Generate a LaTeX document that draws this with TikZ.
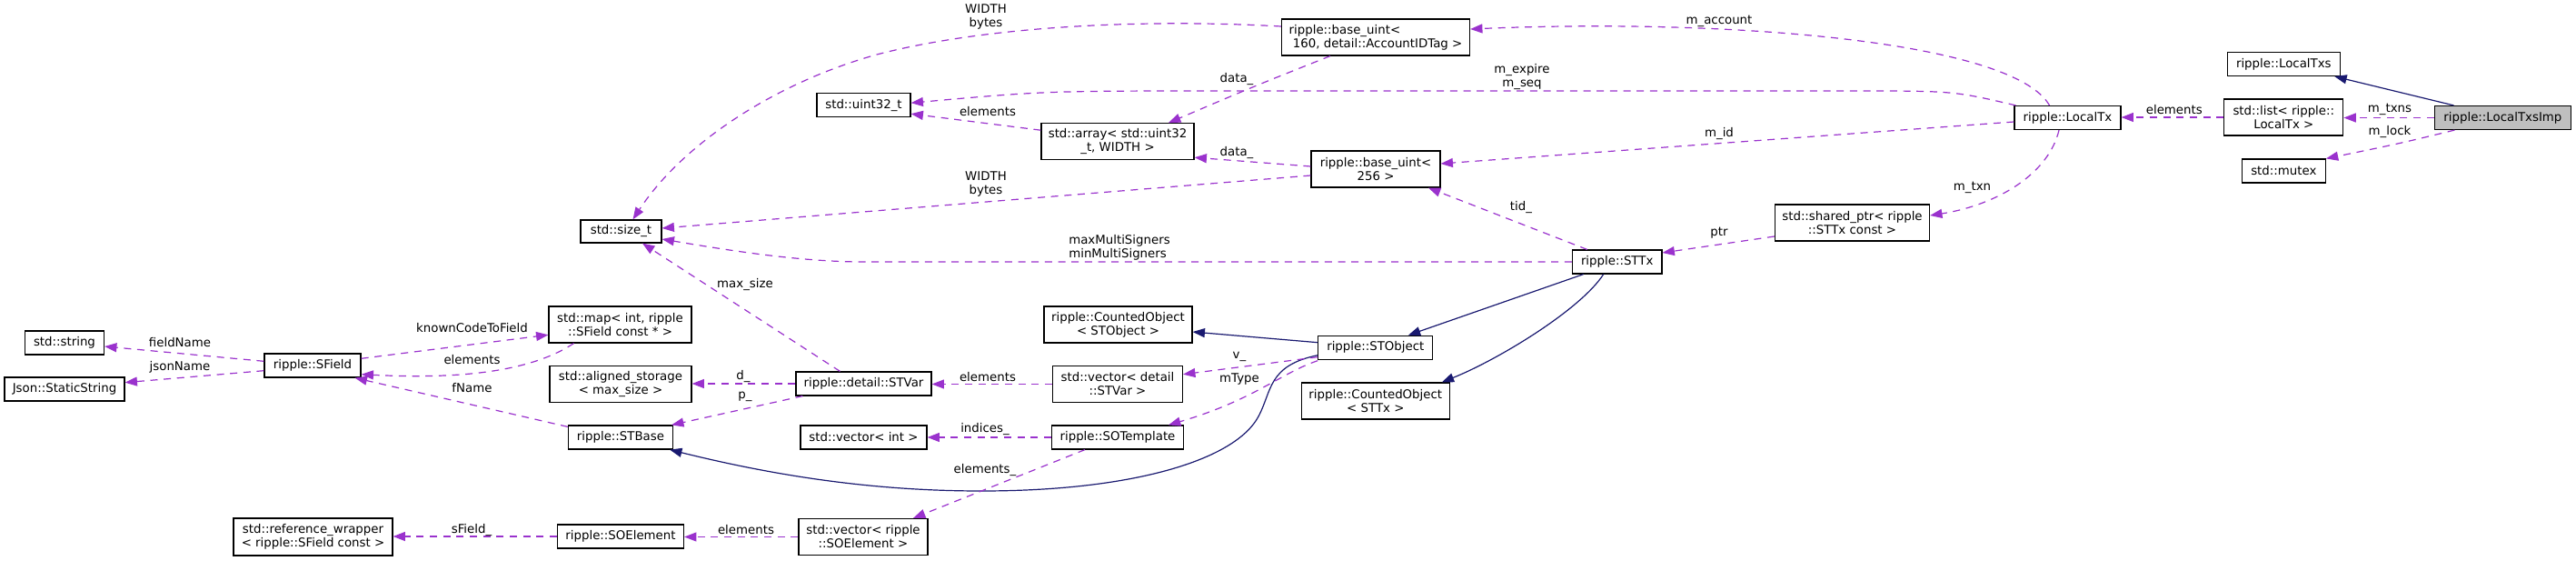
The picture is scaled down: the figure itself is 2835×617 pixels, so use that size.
\documentclass[tikz,border=0pt]{standalone}
\usepackage{fontspec}
\setmainfont{DejaVu Sans}
\usetikzlibrary{arrows.meta,calc}
\definecolor{purp}{HTML}{9A32CD}
\definecolor{navy}{HTML}{191970}
\definecolor{rootgray}{HTML}{BFBFBF}
\tikzset{
  cls/.style={draw=black, line width=0.9pt, fill=white, inner sep=0pt, align=center,
              font=\fontsize{10pt}{11.25pt}\selectfont},
  bx/.style 2 args={cls, minimum width=#1*0.75pt, minimum height=#2*0.75pt},
  lbl/.style={inner sep=0pt, align=center, font=\fontsize{10pt}{11.25pt}\selectfont},
  mem/.style={draw=purp, line width=0.9pt, dash pattern=on 6pt off 5pt,
              -{Triangle[length=10pt,width=7.5pt]}},
  inh/.style={draw=navy, line width=0.9pt, -{Triangle[length=10pt,width=7.5pt]}}
}
\begin{document}
\begin{tikzpicture}[x=0.75pt,y=-0.75pt]
\fill[white] (0,0) rectangle (2835,617);
\useasboundingbox (0,0) rectangle (2835,617);

% nodes
\node[bx={150}{26}, fill=rootgray] (impl) at (2754.4,129.5) {ripple::LocalTxsImp};
\node[bx={124}{26}] (ltxs) at (2513.3,70.5) {ripple::LocalTxs};
\node[bx={131}{40}] (list) at (2513.3,129) {std::list< ripple::\\LocalTx >};
\node[bx={92}{26}] (mutex) at (2513.3,188) {std::mutex};
\node[bx={117}{26}] (ltx) at (2275.5,129.5) {ripple::LocalTx};
\node[bx={170}{40}] (sptr) at (2038.5,245) {std::shared\_ptr< ripple\\::STTx const >};
\node[bx={98.5}{26}] (sttx) at (1779.7,288) {ripple::STTx};
\node[bx={207}{40}, align=left] (bu160) at (1514,41) {ripple::base\_uint<\\\hspace*{0.318em}160, detail::AccountIDTag >};
\node[bx={142}{40}] (bu256) at (1514,186) {ripple::base\_uint<\\256 >};
\node[bx={126}{26}] (stobj) at (1513.8,382.3) {ripple::STObject};
\node[bx={163}{40}] (costtx) at (1513.8,441) {ripple::CountedObject\\< STTx >};
\node[bx={103}{26}] (uint32) at (950.5,115.7) {std::uint32\_t};
\node[bx={168}{40}] (arr) at (1230,155.7) {std::array< std::uint32\\\_t, WIDTH >};
\node[bx={163}{40}] (costobj) at (1230.5,357) {ripple::CountedObject\\< STObject >};
\node[bx={143}{40}] (vecvar) at (1230,422.5) {std::vector< detail\\::STVar >};
\node[bx={145}{26}] (sotmpl) at (1230,481) {ripple::SOTemplate};
\node[bx={149}{26}] (stvar) at (950.5,422) {ripple::detail::STVar};
\node[bx={139}{26}] (vecint) at (950.5,481) {std::vector< int >};
\node[bx={142}{40}] (vecsoe) at (950,590.5) {std::vector< ripple\\::SOElement >};
\node[bx={89}{25}] (sizet) at (683.5,254.5) {std::size\_t};
\node[bx={157}{40}] (map) at (682.5,357) {std::map< int, ripple\\::SField const * >};
\node[bx={156}{40}] (aligned) at (683,422.5) {std::aligned\_storage\\< max\_size >};
\node[bx={115}{26}] (stbase) at (683,481) {ripple::STBase};
\node[bx={139}{26}] (soe) at (683,590) {ripple::SOElement};
\node[bx={106}{26}] (sfield) at (344,402) {ripple::SField};
\node[bx={175}{41}] (refw) at (344.5,590.5) {std::reference\_wrapper\\< ripple::SField const >};
\node[bx={87}{26}] (string) at (71,377) {std::string};
\node[bx={132}{26}] (json) at (71,428) {Json::StaticString};

% inheritance edges
\draw[inh] ($(impl.north)+(-54,0)$) -- ($(ltxs.south)+(56,0)$);
\draw[inh] ($(sttx.south)+(-37,0)$) -- ($(stobj.north)+(36,0)$);
\draw[inh] ($(sttx.south)+(-15,0)$) .. controls (1740,340) and (1650,395) .. ($(costtx.north)+(73,0)$);
\draw[inh] ($(stobj.west)+(0,-5.6)$) -- ($(costobj.east)+(0,8)$);
\draw[inh] ($(stobj.west)+(0,8.4)$) .. controls (1395,402) and (1400,430) .. (1385,458)
   .. controls (1360,505) and (1250,540) .. (1080,540)
   .. controls (950,540) and (840,520) .. ($(stbase.south east)+(-4,0)$);

% member edges
\draw[mem] (impl.west) -- (impl.west -| list.east);
\draw[mem] ($(impl.south)+(-53,0)$) .. controls (2640,158) .. (mutex.north east);
\draw[mem] (list.west) -- (list.west -| ltx.east);
\draw[mem] ($(ltx.north)+(-20,0)$) .. controls (2215,45) and (1900,20) .. ($(bu160.east)+(0,-9)$);
\draw[mem] ($(ltx.north west)+(2,0)$) .. controls (2150,100) .. (2040,100) -- (1350,100)
   .. controls (1150,100) .. ($(uint32.east)+(0,-2.5)$);
\draw[mem] ($(ltx.west)+(0,4.5)$) -- ($(bu256.east)+(0,-6)$);
\draw[mem] ($(ltx.south)+(-9.5,0)$) .. controls (2255,190) and (2200,225) .. ($(sptr.east)+(0,-8)$);
\draw[mem] ($(sptr.west)+(0,15)$) -- ($(sttx.east)+(0,-10)$);
\draw[mem] ($(sttx.north)+(-33,0)$) -- ($(bu256.south)+(58,0)$);
\draw[mem] (sttx.west) -- (950,288) .. controls (880,288) and (800,275) .. ($(sizet.east)+(0,8.5)$);
\draw[mem] ($(bu256.west)+(0,-3)$) -- ($(arr.east)+(0,17.5)$);
\draw[mem] ($(bu256.west)+(0,7)$) -- ($(sizet.east)+(0,-3.5)$);
\draw[mem] ($(bu160.west)+(0,-12)$) .. controls (1250,20) and (1080,30) .. (965,60)
   .. controls (850,92) and (750,160) .. ($(sizet.north)+(13,0)$);
\draw[mem] ($(bu160.south)+(-50,0)$) .. controls (1380,95) .. ($(arr.north)+(56,0)$);
\draw[mem] ($(arr.west)+(0,-12.5)$) -- ($(uint32.east)+(0,9.5)$);
\draw[mem] ($(stobj.west)+(0,10.4)$) -- ($(vecvar.east)+(0,-10.8)$);
\draw[mem] ($(stobj.west)+(0,14.4)$) .. controls (1410,410) and (1380,440) .. ($(sotmpl.north)+(56,0)$);
\draw[mem] (vecvar.west) -- (vecvar.west -| stvar.east);
\draw[mem] ($(stvar.north)+(-26,0)$) -- ($(sizet.south)+(23.5,0)$);
\draw[mem] (stvar.west) -- (stvar.west -| aligned.east);
\draw[mem] ($(stvar.south west)+(8,0)$) -- ($(stbase.north east)+(-2,0)$);
\draw[mem] (sotmpl.west) -- (vecint.east);
\draw[mem] ($(sotmpl.south)+(-36,0)$) -- ($(vecsoe.north)+(55,0)$);
\draw[mem] (vecsoe.west) -- (vecsoe.west -| soe.east);
\draw[mem] (soe.west) -- (soe.west -| refw.east);
\draw[mem] ($(stbase.north west)+(0,2)$) -- ($(sfield.south east)+(-7,0)$);
\draw[mem] ($(sfield.east)+(0,-7.7)$) -- ($(map.west)+(0,11.3)$);
\draw[mem] ($(map.south)+(-51,0)$) .. controls (590,405) and (520,418) .. ($(sfield.east)+(0,9.7)$);
\draw[mem] ($(sfield.west)+(0,-4.7)$) -- ($(string.east)+(0,4)$);
\draw[mem] ($(sfield.west)+(0,5.7)$) -- ($(json.east)+(0,-7.3)$);

% edge labels
\node[lbl] (l1) at (2630,120.7) {m\_txns};
\node[lbl] (l2) at (2630,145) {m\_lock};
\node[lbl] (l3) at (2392.8,120.7) {elements};
\node[lbl] (l4) at (1892,23) {m\_account};
\node[lbl] (l5) at (1675,84.5) {m\_expire\\m\_seq};
\node[lbl] (l6) at (1892,147) {m\_id};
\node[lbl] (l7) at (2170.5,206.7) {m\_txn};
\node[lbl] (l8) at (1892,256) {ptr};
\node[lbl] (l9) at (1674,228.3) {tid\_};
\node[lbl, align=left] (l10) at (1232,272.5) {maxMultiSigners\\minMultiSigners};
\node[lbl] (l11) at (1361,167.7) {data\_};
\node[lbl] (l12) at (1085,202.5) {WIDTH\\bytes};
\node[lbl] (l13) at (1085,19) {WIDTH\\bytes};
\node[lbl] (l14) at (1361,87.3) {data\_};
\node[lbl] (l15) at (1087,122.7) {elements};
\node[lbl] (l16) at (1364,392) {v\_};
\node[lbl] (l17) at (1364,417) {mType};
\node[lbl] (l18) at (1087,415) {elements};
\node[lbl] (l19) at (820,312.7) {max\_size};
\node[lbl] (l20) at (818,414) {d\_};
\node[lbl] (l21) at (820,436.7) {p\_};
\node[lbl] (l22) at (1084,472.3) {indices\_};
\node[lbl] (l23) at (1084,516.7) {elements\_};
\node[lbl] (l24) at (821,582.7) {elements};
\node[lbl] (l25) at (519,582.7) {sField\_};
\node[lbl] (l26) at (519.5,426.7) {fName};
\node[lbl] (l27) at (519.5,360.3) {knownCodeToField};
\node[lbl] (l28) at (519.5,395.7) {elements};
\node[lbl] (l29) at (198,376.7) {fieldName};
\node[lbl] (l30) at (198,403.7) {jsonName};
\end{tikzpicture}
\end{document}
